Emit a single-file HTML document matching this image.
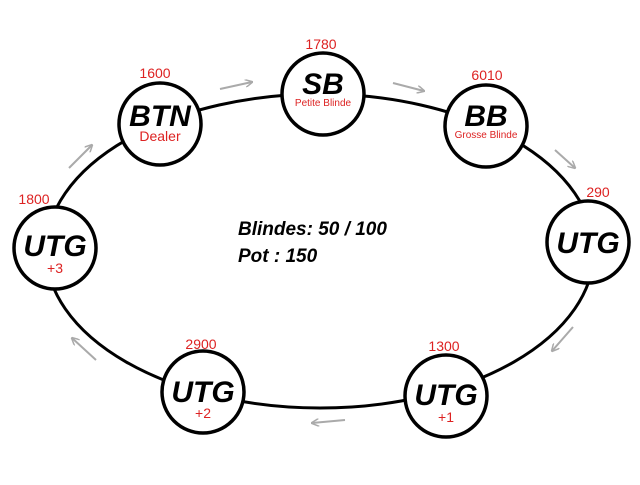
<!DOCTYPE html><html><head><style>body{margin:0;background:#fff}</style></head><body>
<svg width="640" height="480" xmlns="http://www.w3.org/2000/svg" font-family="Liberation Sans, sans-serif">
<defs><marker id="a" markerWidth="8" markerHeight="8" refX="7" refY="4" orient="auto" markerUnits="userSpaceOnUse"><path d="M0,0 L8,4 L0,8" fill="none" stroke="#aaa" stroke-width="1.5"/></marker></defs>
<ellipse cx="320" cy="251" rx="274" ry="157" fill="none" stroke="#000" stroke-width="3"/>
<g stroke="#aaa" stroke-width="2" marker-end="url(#a)">
<line x1="220" y1="89" x2="252" y2="82"/><line x1="393" y1="83" x2="424" y2="91"/>
<line x1="555" y1="150" x2="575" y2="168"/><line x1="573" y1="327" x2="552" y2="351"/>
<line x1="345" y1="420" x2="312" y2="423"/><line x1="96" y1="360" x2="72" y2="338"/>
<line x1="69" y1="168" x2="92" y2="145"/>
</g>
<g fill="#fff" stroke="#000" stroke-width="3.5">
<circle cx="160" cy="124" r="41"/><circle cx="323" cy="94" r="41"/><circle cx="486" cy="126" r="41"/>
<circle cx="588" cy="242" r="41"/><circle cx="446" cy="396" r="41"/><circle cx="203" cy="392" r="41"/><circle cx="55" cy="248" r="41"/>
</g>
<g font-weight="bold" font-style="italic" font-size="30" text-anchor="middle" fill="#000">
<text x="160" y="126">BTN</text><text x="323" y="94">SB</text><text x="486" y="126">BB</text>
<text x="588" y="253">UTG</text><text x="446" y="405">UTG</text><text x="203" y="402">UTG</text><text x="55" y="256">UTG</text>
</g>
<g fill="#d22" text-anchor="middle" font-size="14">
<text x="155" y="78">1600</text><text x="321" y="49">1780</text><text x="487" y="80">6010</text>
<text x="598" y="197">290</text><text x="444" y="351">1300</text><text x="201" y="349">2900</text><text x="34" y="204">1800</text>
<text x="160" y="141">Dealer</text><text x="55" y="273">+3</text><text x="446" y="422">+1</text><text x="203" y="418">+2</text>
<text x="323" y="106" font-size="10">Petite Blinde</text><text x="486" y="138" font-size="10">Grosse Blinde</text>
</g>
<g font-weight="bold" font-style="italic" font-size="19" fill="#000">
<text x="238" y="235">Blindes: 50 / 100</text><text x="238" y="262">Pot : 150</text>
</g>
</svg></body></html>
